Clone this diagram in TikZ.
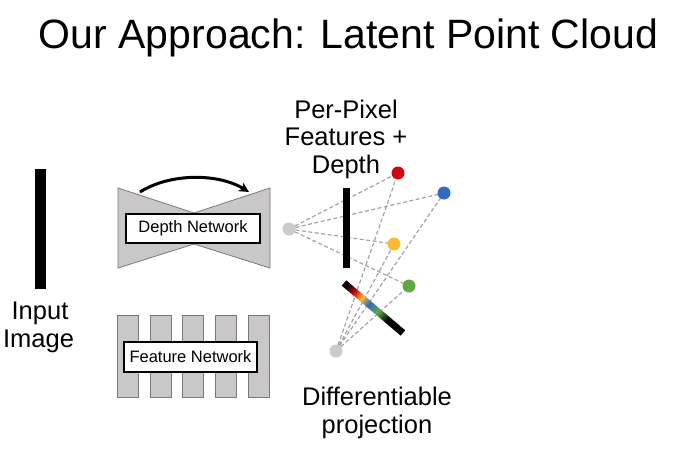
\documentclass[tikz,border=0pt]{standalone}
\usepackage{fontspec}
\setmainfont{Liberation Sans}
\usetikzlibrary{arrows.meta}

\definecolor{netgray}{HTML}{C9C7C7}
\definecolor{netedge}{HTML}{7A7878}
\definecolor{raygray}{HTML}{A3A3A3}
\definecolor{ptgray}{HTML}{CBCBCB}
\definecolor{ptred}{HTML}{CC0A14}
\definecolor{ptblue}{HTML}{2F6BC0}
\definecolor{ptyellow}{HTML}{FDB934}
\definecolor{ptgreen}{HTML}{5FA845}

% colour ramp along the projected image plane
\pgfdeclarehorizontalshading{planeramp}{100bp}{%
  color(0bp)=(black); color(27.5bp)=(black); color(34bp)=(ptred);
  color(40bp)=(ptyellow); color(46bp)=(ptblue); color(54bp)=(ptgreen);
  color(62bp)=(black); color(100bp)=(black)}

\begin{document}
\begin{tikzpicture}[x=1pt,y=-1pt,
  txt/.style={anchor=base, inner sep=0pt, font=\fontsize{25.5}{28}\selectfont},
  netbox/.style={draw=black, line width=1.2pt, fill=white, inner sep=0pt,
                 font=\fontsize{16.5}{18}\selectfont},
  layer/.style={fill=netgray, draw=netedge, line width=0.8pt},
  ray/.style={draw=raygray, dash pattern=on 4pt off 2.5pt, line width=1.2pt},
  dot/.style={circle, inner sep=0pt, minimum size=13pt},
  bar/.style={fill=black, inner sep=0pt, minimum width=#1}]
\useasboundingbox (0,0) rectangle (683,458);

% title
\node[anchor=base, inner sep=0pt, font=\fontsize{41}{48}\selectfont] (title)
  at (348.5,48) {Our Approach: Latent Point Cloud};

% input image
\node[bar=11pt, minimum height=120pt] (img) at (40.5,229) {};
\node[txt] (inA) at (40,319) {Input};
\node[txt] (inB) at (38.5,347) {Image};

% depth network (encoder/decoder)
\draw[layer] (118,188) -- (194,213) -- (194,244) -- (118,268) -- cycle;
\draw[layer] (270,188) -- (194,213) -- (194,244) -- (270,268) -- cycle;
\node[netbox, minimum width=134pt, minimum height=29pt] (depthnet)
  at (193,228.5) {Depth Network};
\coordinate (skipA) at (140,192);
\coordinate (skipB) at (249,192);
\draw[line width=3pt, -{Stealth[length=10pt, width=10pt]}]
  (skipA) .. controls (170,173) and (218,173) .. (skipB);

% feature network
\foreach \x [count=\i] in {127.5,160.5,193,226,258.5}
  \node[layer, minimum width=21pt, minimum height=82pt, inner sep=0pt] (fl\i) at (\x,356) {};
\node[netbox, minimum width=133pt, minimum height=30pt] (featnet)
  at (190.5,357) {Feature Network};

% labels
\node[txt] (pfA) at (346,118) {Per-Pixel};
\node[txt] (pfB) at (346,145) {Features +};
\node[txt] (pfC) at (346,173) {Depth};
\node[txt] (dpA) at (377,405) {Differentiable};
\node[txt] (dpB) at (377,433) {projection};

% camera centres and lifted points
\coordinate (cam) at (289,229);
\coordinate (cam2) at (336,351);
\coordinate (pR) at (398,173);
\coordinate (pB) at (444,193);
\coordinate (pY) at (394,244);
\coordinate (pG) at (409,286);

% rays
\foreach \p in {pR,pB,pY,pG} {
  \draw[ray] (cam) -- (\p);
  \draw[ray] (cam2) -- (\p);
}

% image plane of the source view
\node[bar=7pt, minimum height=80pt] (plane) at (346,228) {};

% projected image plane with colour ramp
\begin{scope}[transform canvas={shift={(344,283)}, rotate=-40.28}]
  \shade[shading=planeramp] (0,-3.5) rectangle (77.3,3.5);
\end{scope}

% points
\node[dot, fill=ptgray] (camdot) at (cam) {};
\node[dot, fill=ptgray] (cam2dot) at (cam2) {};
\node[dot, fill=ptred] (dR) at (pR) {};
\node[dot, fill=ptblue] (dB) at (pB) {};
\node[dot, fill=ptyellow] (dY) at (pY) {};
\node[dot, fill=ptgreen] (dG) at (pG) {};
\end{tikzpicture}
\end{document}
